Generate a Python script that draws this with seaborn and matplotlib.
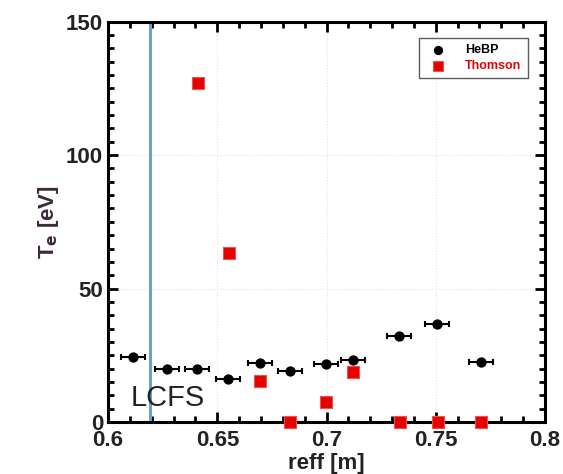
import matplotlib
matplotlib.use("Agg")
import matplotlib.pyplot as plt
import seaborn as sns
import pandas as pd
from matplotlib.ticker import MultipleLocator

sns.set_theme(style="ticks")
plt.rcParams['font.family'] = ['Liberation Sans', 'DejaVu Sans']

# HeBP data
hebp_r = [0.6116, 0.6269, 0.6409, 0.6550, 0.6696, 0.6833, 0.6996, 0.7123, 0.7333, 0.7506, 0.7707]
hebp_te = [24.5, 19.9, 19.9, 16.1, 22.0, 19.2, 21.7, 23.2, 32.2, 36.7, 22.6]
hebp_rerr = [0.0055] * 11

# Thomson data
th_r = [0.6410, 0.6554, 0.6696, 0.6833, 0.6996, 0.7123, 0.7336, 0.7512, 0.7707]
th_te = [127.2, 63.3, 15.5, 0.0, 7.6, 18.6, 0.0, 0.0, 0.0]

lcfs_r = 0.619

hebp = pd.DataFrame({"reff": hebp_r, "Te": hebp_te, "src": "HeBP"})
th = pd.DataFrame({"reff": th_r, "Te": th_te, "src": "Thomson"})

fig = plt.figure(figsize=(5.63, 4.74), dpi=100)
ax = fig.add_axes([0.192, 0.110, 0.776, 0.844])

for v in [0.65, 0.7, 0.75]:
    ax.axvline(v, color="#e2e2e2", lw=0.8, ls=":", zorder=0)
for v in [50, 100]:
    ax.axhline(v, color="#e2e2e2", lw=0.8, ls=":", zorder=0)

ax.errorbar(hebp_r, hebp_te, xerr=hebp_rerr, fmt="none", ecolor="black",
            elinewidth=1.5, capsize=2.5, capthick=1.5, zorder=2)
sns.scatterplot(data=hebp, x="reff", y="Te", ax=ax, color="black", marker="o",
                s=55, edgecolor="black", linewidth=0, label="HeBP", zorder=3)
sns.scatterplot(data=th, x="reff", y="Te", ax=ax, color="#e60000", marker="s",
                s=75, edgecolor="#f05050", linewidth=0.8, label="Thomson", zorder=4,
                clip_on=False)

ax.axvline(lcfs_r, color="#6f9fd0", lw=2.2, zorder=1)
ax.text(0.6105, 9, "LCFS", fontsize=21, color="#222222", va="center", ha="left")

ax.set_xlim(0.6, 0.8)
ax.set_ylim(0, 150)
ax.xaxis.set_major_locator(MultipleLocator(0.05))
ax.xaxis.set_minor_locator(MultipleLocator(0.01))
ax.yaxis.set_major_locator(MultipleLocator(50))
ax.yaxis.set_minor_locator(MultipleLocator(5))
ax.set_xticks([0.6, 0.65, 0.7, 0.75, 0.8])
ax.set_xticklabels(["0.6", "0.65", "0.7", "0.75", "0.8"])
ax.tick_params(which="both", direction="in", top=True, right=True, width=2, colors="black")
ax.tick_params(which="major", length=7, labelsize=16)
ax.tick_params(axis="x", which="major", pad=6)
ax.tick_params(which="minor", length=4)
for lab in ax.get_xticklabels() + ax.get_yticklabels():
    lab.set_fontweight("bold")
    lab.set_color("#222222")
for s in ax.spines.values():
    s.set_linewidth(2.2)
    s.set_color("black")

ax.set_xlabel("reff [m]", fontsize=16, fontweight="bold", color="#222222", labelpad=1)
ax.set_ylabel(r"T$_{\mathbf{e}}$ [eV]", fontsize=16, fontweight="bold", color="#3a2a3a", labelpad=4)

leg = ax.legend(loc="upper right", fontsize=9, frameon=True, fancybox=False,
                edgecolor="#333333", borderpad=0.5, handletextpad=1.2, labelspacing=0.3,
                bbox_to_anchor=(0.975, 0.975), markerscale=0.9)
leg.get_frame().set_linewidth(1.0)
for t, c in zip(leg.get_texts(), ["black", "#e60000"]):
    t.set_color(c)
    t.set_fontweight("bold")

fig.savefig("out.png", dpi=100)
